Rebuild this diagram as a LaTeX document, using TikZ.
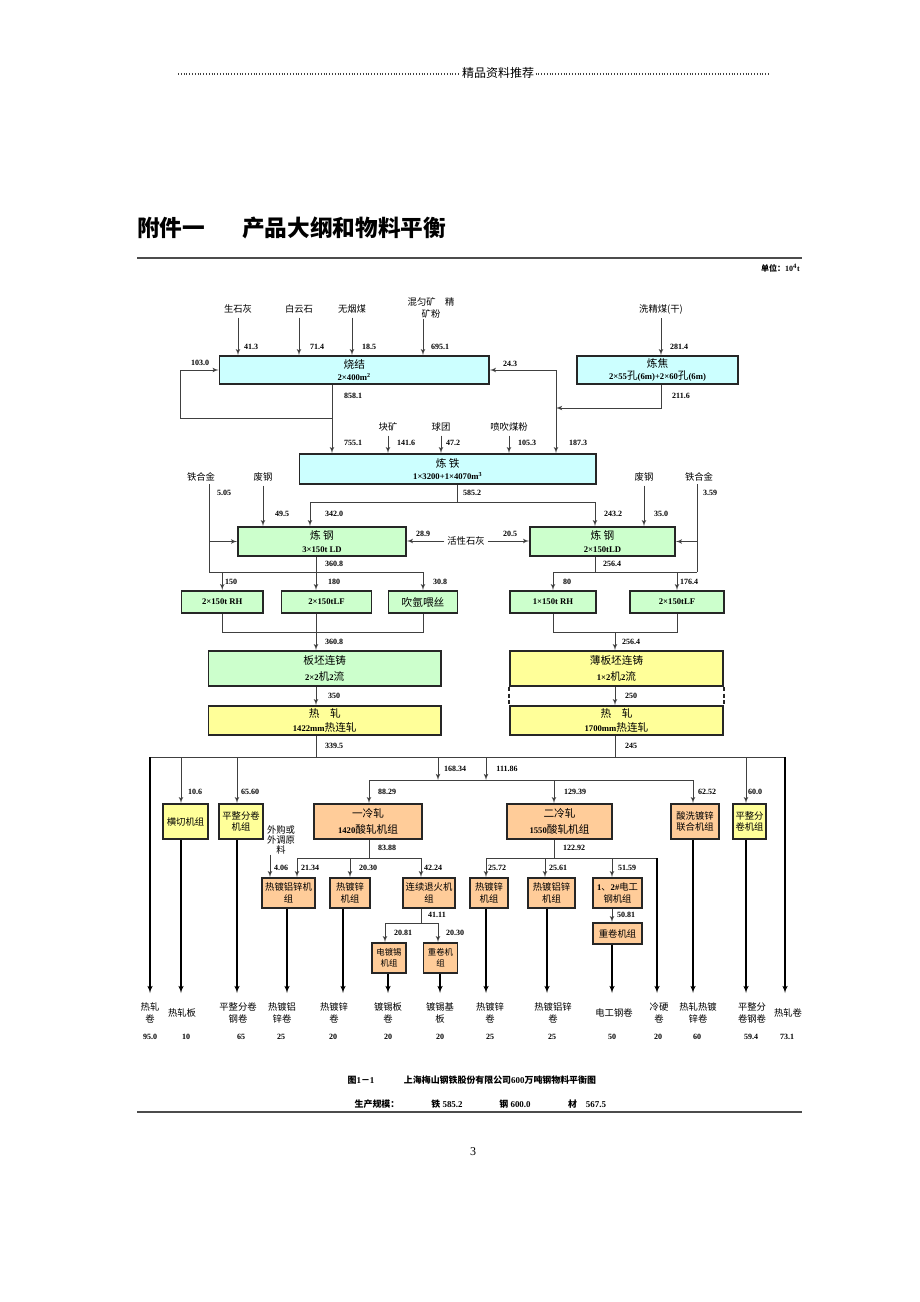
\documentclass[tikz,border=0pt]{standalone}
\usepackage{fontspec}
\setmainfont{Liberation Serif}
\newfontfamily\cjk{Noto Sans CJK SC}
\usetikzlibrary{arrows, positioning, calc}
\definecolor{boxcyan}{RGB}{204,255,255}
\definecolor{boxgreen}{RGB}{204,255,204}
\definecolor{boxyellow}{RGB}{255,255,153}
\definecolor{boxorange}{RGB}{255,204,153}
\newcommand{\zh}[1]{{\cjk #1}}
\newcommand{\bnum}[1]{{\fontsize{6.5}{8}\selectfont\bfseries #1}}
\newcommand{\numfont}{\fontsize{6}{7}\selectfont\bfseries}
\newcommand{\lblfont}{\fontsize{7}{8.5}\selectfont}
\newcommand{\bigbox}{\fontsize{8}{9.6}\selectfont}
\newcommand{\smallbox}{\fontsize{7}{8.6}\selectfont}
\newcommand{\capfont}{\fontsize{6.7}{8}\selectfont\bfseries}
\tikzset{
   pbox/.style={draw=black!85, line width=1.3pt, inner sep=0pt, align=center, font=\bigbox},
   cyanbox/.style={pbox, fill=boxcyan},
   greenbox/.style={pbox, fill=boxgreen},
   yellowbox/.style={pbox, fill=boxyellow},
   orangebox/.style={pbox, fill=boxorange},
   wh/.style 2 args={minimum width=#1*0.75pt, minimum height=#2*0.75pt},
   num/.style={font=\numfont, inner sep=0pt},
   lbl/.style={font=\lblfont, inner sep=0pt, align=center},
   flow/.style={draw=black!75, line width=0.6pt},
   arr/.style={flow, -latex'},
   inarr/.style={arr, shorten <=3pt},
   outarr/.style={draw=black, line width=0.85pt, -latex'},
   dotrule/.style={black!75, line width=0.8pt, dash pattern=on 0.7pt off 1.4pt}
}

\begin{document}
\begin{tikzpicture}[x=0.75pt, y=-0.75pt]
\useasboundingbox (0,0) rectangle (920,1302);

% page head
\node[font=\fontsize{9}{10}\selectfont, inner sep=1pt] (hdr) at (498,73) {\zh{精品资料推荐}};
\draw[dotrule] (178,74) -- (hdr.west |- 0,74);
\draw[dotrule] (hdr.east |- 0,74) -- (770,74);
\node[font=\fontsize{17}{20}\selectfont\bfseries] (tnum) at (171,228) {\zh{附件一}};
\node[font=\fontsize{17}{20}\selectfont\bfseries] (ttext) at (344,228) {\zh{产品大纲和物料平衡}};
\draw[black!70, line width=1pt] (137,258) -- (802,258);
\node[num, anchor=east] (unit) at (800,268) {\zh{单位：}10\textsuperscript{4}t};

% raw materials
\node[lbl] (qlime) at (238,309) {\zh{生石灰}};
\node[lbl] (dolo) at (299,309) {\zh{白云石}};
\node[lbl] (anth) at (352,309) {\zh{无烟煤}};
\node[lbl] (ore) at (431,308) {\zh{混匀矿\quad 精}\\[0.5pt]\zh{矿粉}};
\node[lbl] (wcoal) at (661,309) {\zh{洗精煤(干)}};

% boxes
\node[cyanbox, wh={269.5}{28}] (sinter) at (354.25,370) {\zh{烧结}\\\bnum{2×400m\textsuperscript{2}}};
\node[cyanbox, wh={161}{28}] (coke) at (657.5,370) {\zh{炼焦}\\\bnum{2×55}\zh{孔}\bnum{(6m)+2×60}\zh{孔}\bnum{(6m)}};
\node[cyanbox, wh={296.5}{30}] (iron) at (447.75,469) {\zh{炼\ 铁}\\\bnum{1×3200+1×4070m\textsuperscript{3}}};
\node[greenbox, wh={168}{29}] (bof1) at (322,541.5) {\zh{炼\ 钢}\\\bnum{3×150t LD}};
\node[greenbox, wh={145}{29}] (bof2) at (602.5,541.5) {\zh{炼\ 钢}\\\bnum{2×150tLD}};
\node[greenbox, wh={81.5}{22}] (rh1) at (222.25,602) {\bnum{2×150t RH}};
\node[greenbox, wh={90}{22}] (lf1) at (326.5,602) {\bnum{2×150tLF}};
\node[greenbox, wh={69}{22}] (argon) at (423,602) {\zh{吹氩喂丝}};
\node[greenbox, wh={86}{22}] (rh2) at (553,602) {\bnum{1×150t RH}};
\node[greenbox, wh={94}{22}] (lf2) at (677,602) {\bnum{2×150tLF}};
\node[greenbox, wh={232.5}{35}] (cc1) at (324.75,668.5) {\zh{板坯连铸}\\[3pt]\bnum{2×2}\zh{机}\bnum{2}\zh{流}};
\node[yellowbox, wh={213}{35}] (cc2) at (616.5,668.5) {\zh{薄板坯连铸}\\[3pt]\bnum{1×2}\zh{机}\bnum{2}\zh{流}};
\node[yellowbox, wh={232.5}{29}] (hsm1) at (324.75,720.5) {\zh{热\hspace{1em}轧}\\[1.5pt]\bnum{1422mm}\zh{热连轧}};
\node[yellowbox, wh={213}{29}] (hsm2) at (616.5,720.5) {\zh{热\hspace{1em}轧}\\[1.5pt]\bnum{1700mm}\zh{热连轧}};
\node[yellowbox, wh={45}{35}, font=\smallbox] (cut) at (185.5,821.5) {\zh{横切机组}};
\node[yellowbox, wh={44}{35}, font=\smallbox] (skp1) at (241,821.5) {\zh{平整分卷}\\\zh{机组}};
\node[orangebox, wh={108}{35}] (pcm1) at (368,821.5) {\zh{一冷轧}\\[3pt]\bnum{1420}\zh{酸轧机组}};
\node[orangebox, wh={105}{35}] (pcm2) at (559.5,821.5) {\zh{二冷轧}\\[3pt]\bnum{1550}\zh{酸轧机组}};
\node[orangebox, wh={48}{35}, font=\smallbox] (pgl) at (695,821.5) {\zh{酸洗镀锌}\\\zh{联合机组}};
\node[yellowbox, wh={33}{35}, font=\smallbox] (skp2) at (749.5,821.5) {\zh{平整分}\\\zh{卷机组}};
\node[orangebox, wh={53}{30}, font=\smallbox] (galv1) at (288.5,893) {\zh{热镀铝锌机}\\\zh{组}};
\node[orangebox, wh={40}{30}, font=\smallbox] (cgl1) at (350,893) {\zh{热镀锌}\\\zh{机组}};
\node[orangebox, wh={52}{30}, font=\smallbox] (ca) at (429,893) {\zh{连续退火机}\\\zh{组}};
\node[orangebox, wh={38}{30}, font=\smallbox] (cgl2) at (489,893) {\zh{热镀锌}\\\zh{机组}};
\node[orangebox, wh={47}{30}, font=\smallbox] (galv2) at (551.5,893) {\zh{热镀铝锌}\\\zh{机组}};
\node[orangebox, wh={49}{30}, font=\smallbox] (elec) at (617.5,893) {\bnum{1}\zh{、}\bnum{2\#}\zh{电工}\\\zh{钢机组}};
\node[orangebox, wh={49}{21}, font=\smallbox] (rew2) at (617.5,933.5) {\zh{重卷机组}};
\node[orangebox, wh={34.5}{30}, font=\fontsize{6.3}{8}\selectfont] (etl) at (389,958) {\zh{电镀锡}\\\zh{机组}};
\node[orangebox, wh={34}{30}, font=\fontsize{6.3}{8}\selectfont] (rew1) at (440.5,958) {\zh{重卷机}\\\zh{组}};

% other inputs
\node[lbl] (lump) at (388,427) {\zh{块矿}};
\node[lbl] (pellet) at (441,427) {\zh{球团}};
\node[lbl] (pci) at (509,427) {\zh{喷吹煤粉}};
\node[lbl] (ferro1) at (201,477) {\zh{铁合金}};
\node[lbl] (scrap1) at (263,477) {\zh{废钢}};
\node[lbl] (scrap2) at (644,477) {\zh{废钢}};
\node[lbl] (ferro2) at (699,477) {\zh{铁合金}};
\node[lbl] (actlime) at (466,541) {\zh{活性石灰}};
\node[lbl] (extsrc) at (281,840) {\zh{外购或}\\[-1pt]\zh{外调原}\\[-1pt]\zh{料}};

% sinter and coke
\draw[inarr] (qlime.south) -- (qlime.south |- sinter.north);
\draw[inarr] (dolo.south) -- (dolo.south |- sinter.north);
\draw[inarr] (anth.south) -- (anth.south |- sinter.north);
\draw[arr] ([xshift=-6pt]ore.south) -- ([xshift=-6pt]ore.south |- sinter.north);
\draw[inarr] (wcoal.south) -- (wcoal.south |- coke.north);
\coordinate (s1) at (332,418);
\coordinate (c1) at (556,408);
\coordinate (c2) at (661,408);
\draw[flow] (sinter.south -| s1) -- (s1);
\draw[arr] (s1) -- (s1 |- iron.north);
\draw[arr] (s1) -| ([xshift=-29pt]sinter.west) -- (sinter.west);
\draw[arr] (coke.south -| c2) -- (c2) -- (c1);
\draw[arr] (c1) -- (c1 |- sinter.east) -- (sinter.east);
\draw[arr] (c1) -- (c1 |- iron.north);
\draw[inarr] (lump.south) -- (lump.south |- iron.north);
\draw[inarr] (pellet.south) -- (pellet.south |- iron.north);
\draw[inarr] (pci.south) -- (pci.south |- iron.north);

% iron to steel
\coordinate (i1) at (457,502);
\coordinate (i2) at (310,502);
\coordinate (i3) at (595,502);
\draw[flow] (iron.south -| i1) -- (i1);
\draw[flow] (i2) -- (i3);
\draw[arr] (i2) -- (i2 |- bof1.north);
\draw[arr] (i3) -- (i3 |- bof2.north);
\draw[inarr] (scrap1.south) -- (scrap1.south |- bof1.north);
\draw[inarr] (scrap2.south) -- (scrap2.south |- bof2.north);
\draw[arr, shorten <=2pt] (actlime.west) -- (actlime.west -| bof1.east);
\draw[arr, shorten <=2pt] (actlime.east) -- (actlime.east -| bof2.west);
\coordinate (f1) at (209,572);
\coordinate (f2) at (697,572);
\draw[flow, shorten <=2pt] (ferro1.south -| f1) -- (f1);
\draw[flow, shorten <=2pt] (ferro2.south -| f2) -- (f2);
\draw[arr] (f1 |- bof1.west) -- (bof1.west);
\draw[arr] (f2 |- bof2.east) -- (bof2.east);

% secondary metallurgy
\coordinate (b1) at (316,572);
\coordinate (b2) at (595,572);
\draw[flow] (bof1.south -| b1) -- (b1);
\draw[flow] (f1) -- (argon.north |- b1);
\draw[arr] (rh1.north |- b1) -- (rh1.north);
\draw[arr] (b1) -- (b1 |- lf1.north);
\draw[arr] (argon.north |- b1) -- (argon.north);
\draw[flow] (bof2.south -| b2) -- (b2);
\draw[flow] (rh2.north |- b2) -- (f2);
\draw[arr] (rh2.north |- b2) -- (rh2.north);
\draw[arr] (lf2.north |- b2) -- (lf2.north);

% casting and hot rolling
\coordinate (b3) at (316,632);
\coordinate (b4) at (615,632);
\draw[flow] (rh1.south) -- (rh1.south |- b3) -- (argon.south |- b3) -- (argon.south);
\draw[arr] (lf1.south -| b3) -- (b3 |- cc1.north);
\draw[flow] (rh2.south) -- (rh2.south |- b4) -- (lf2.south |- b4) -- (lf2.south);
\draw[arr] (b4) -- (b4 |- cc2.north);
\draw[arr] (cc1.south -| b3) -- (b3 |- hsm1.north);
\draw[arr] (cc2.south -| b4) -- (b4 |- hsm2.north);
\draw[black!85, line width=1pt, dash pattern=on 3pt off 2pt] (cc2.south west) -- (hsm2.north west);
\draw[black!85, line width=1pt, dash pattern=on 3pt off 2pt] (cc2.south east) -- (hsm2.north east);

% hot strip distribution
\coordinate (h1) at (316,757);
\coordinate (h2) at (615,757);
\coordinate (hl) at (150,757);
\coordinate (hr) at (785,757);
\coordinate (d1) at (181,757);
\coordinate (d2) at (237,757);
\coordinate (d3) at (438,757);
\coordinate (d4) at (486,757);
\coordinate (d5) at (746,757);
\coordinate (k1) at (369,780);
\coordinate (k2) at (693,780);
\coordinate (k3) at (554,780);
\coordinate (bot) at (0,993);
\draw[flow] (hsm1.south -| h1) -- (h1);
\draw[flow] (hsm2.south -| h2) -- (h2);
\draw[flow] (hl) -- (hr);
\draw[arr] (d1) -- (d1 |- cut.north);
\draw[arr] (d2) -- (d2 |- skp1.north);
\draw[arr] (d3) -- (d3 |- k1);
\draw[arr] (d4) -- (d4 |- k1);
\draw[arr] (d5) -- (d5 |- skp2.north);
\draw[flow] (k1) -- (k2);
\draw[arr] (k1) -- (k1 |- pcm1.north);
\draw[arr] (k3) -- (k3 |- pcm2.north);
\draw[arr] (k2) -- (k2 |- pgl.north);

% cold rolling 1
\coordinate (p1) at (369,858);
\coordinate (p1l) at (297,858);
\coordinate (p1m) at (350,858);
\coordinate (p1r) at (421,858);
\coordinate (p1x) at (270,858);
\draw[flow] (pcm1.south -| p1) -- (p1);
\draw[flow] (p1l) -- (p1r);
\draw[arr] (p1l) -- (p1l |- galv1.north);
\draw[arr] (p1m) -- (p1m |- cgl1.north);
\draw[arr] (p1r) -- (p1r |- ca.north);
\draw[arr] (extsrc.south -| p1x) -- (p1x |- galv1.north);
\coordinate (q1) at (421,923);
\coordinate (q1l) at (385,923);
\coordinate (q1r) at (438,923);
\draw[flow] (ca.south -| q1) -- (q1);
\draw[flow] (q1l) -- (q1r);
\draw[arr] (q1l) -- (q1l |- etl.north);
\draw[arr] (q1r) -- (q1r |- rew1.north);

% cold rolling 2
\coordinate (p2) at (554,858);
\coordinate (p2l) at (486,858);
\coordinate (p2m) at (545,858);
\coordinate (p2e) at (612,858);
\coordinate (p2r) at (657,858);
\draw[flow] (pcm2.south -| p2) -- (p2);
\draw[flow] (p2l) -- (p2r);
\draw[arr] (p2l) -- (p2l |- cgl2.north);
\draw[arr] (p2m) -- (p2m |- galv2.north);
\draw[arr] (p2e) -- (p2e |- elec.north);
\draw[arr] (elec.south -| p2e) -- (p2e |- rew2.north);

% products
\coordinate (e1) at (287,993);
\coordinate (e2) at (343,993);
\coordinate (e3) at (388,993);
\coordinate (e4) at (440,993);
\coordinate (e5) at (547,993);
\draw[outarr] (hl) -- (hl |- bot);
\draw[outarr] (cut.south -| d1) -- (d1 |- bot);
\draw[outarr] (skp1.south -| d2) -- (d2 |- bot);
\draw[outarr] (galv1.south -| e1) -- (e1);
\draw[outarr] (cgl1.south -| e2) -- (e2);
\draw[outarr] (etl.south -| e3) -- (e3);
\draw[outarr] (rew1.south -| e4) -- (e4);
\draw[outarr] (cgl2.south -| p2l) -- (p2l |- bot);
\draw[outarr] (galv2.south -| e5) -- (e5);
\draw[outarr] (rew2.south -| p2e) -- (p2e |- bot);
\draw[outarr] (p2r) -- (p2r |- bot);
\draw[outarr] (pgl.south -| k2) -- (k2 |- bot);
\draw[outarr] (skp2.south -| d5) -- (d5 |- bot);
\draw[outarr] (hr) -- (hr |- bot);

\node[lbl] (out1) at (150,1013) {\zh{热轧}\\\zh{卷}};
\node[lbl] (out2) at (182,1013) {\zh{热轧板}};
\node[lbl] (out3) at (238,1013) {\zh{平整分卷}\\\zh{钢卷}};
\node[lbl] (out4) at (282,1013) {\zh{热镀铝}\\\zh{锌卷}};
\node[lbl] (out5) at (334,1013) {\zh{热镀锌}\\\zh{卷}};
\node[lbl] (out6) at (388,1013) {\zh{镀锡板}\\\zh{卷}};
\node[lbl] (out7) at (440,1013) {\zh{镀锡基}\\\zh{板}};
\node[lbl] (out8) at (490,1013) {\zh{热镀锌}\\\zh{卷}};
\node[lbl] (out9) at (553,1013) {\zh{热镀铝锌}\\\zh{卷}};
\node[lbl] (out10) at (614,1013) {\zh{电工钢卷}};
\node[lbl] (out11) at (659,1013) {\zh{冷硬}\\\zh{卷}};
\node[lbl] (out12) at (698,1013) {\zh{热轧热镀}\\\zh{锌卷}};
\node[lbl] (out13) at (752,1013) {\zh{平整分}\\\zh{卷钢卷}};
\node[lbl] (out14) at (788,1013) {\zh{热轧卷}};
\node[num] (t1) at (150,1037) {95.0};
\node[num] (t2) at (186,1037) {10};
\node[num] (t3) at (241,1037) {65};
\node[num] (t4) at (281,1037) {25};
\node[num] (t5) at (333,1037) {20};
\node[num] (t6) at (388,1037) {20};
\node[num] (t7) at (440,1037) {20};
\node[num] (t8) at (490,1037) {25};
\node[num] (t9) at (552,1037) {25};
\node[num] (t10) at (612,1037) {50};
\node[num] (t11) at (658,1037) {20};
\node[num] (t12) at (697,1037) {60};
\node[num] (t13) at (751,1037) {59.4};
\node[num] (t14) at (787,1037) {73.1};

% flow values
\node[num] (v01) at (251,347) {41.3};
\node[num] (v02) at (317,347) {71.4};
\node[num] (v03) at (369,347) {18.5};
\node[num] (v04) at (440,347) {695.1};
\node[num] (v05) at (679,347) {281.4};
\node[num] (v06) at (200,363) {103.0};
\node[num] (v07) at (510,364) {24.3};
\node[num] (v08) at (353,396) {858.1};
\node[num] (v09) at (681,396) {211.6};
\node[num] (v10) at (353,443) {755.1};
\node[num] (v11) at (406,443) {141.6};
\node[num] (v12) at (453,443) {47.2};
\node[num] (v13) at (527,443) {105.3};
\node[num] (v14) at (578,443) {187.3};
\node[num] (v15) at (472,493) {585.2};
\node[num] (v16) at (224,493) {5.05};
\node[num] (v17) at (710,493) {3.59};
\node[num] (v18) at (282,514) {49.5};
\node[num] (v19) at (334,514) {342.0};
\node[num] (v20) at (613,514) {243.2};
\node[num] (v21) at (661,514) {35.0};
\node[num] (v22) at (423,534) {28.9};
\node[num] (v23) at (510,534) {20.5};
\node[num] (v24) at (334,564) {360.8};
\node[num] (v25) at (612,564) {256.4};
\node[num] (v26) at (231,582) {150};
\node[num] (v27) at (334,582) {180};
\node[num] (v28) at (440,582) {30.8};
\node[num] (v29) at (567,582) {80};
\node[num] (v30) at (689,582) {176.4};
\node[num] (v31) at (334,642) {360.8};
\node[num] (v32) at (631,642) {256.4};
\node[num] (v33) at (334,696) {350};
\node[num] (v34) at (631,696) {250};
\node[num] (v35) at (334,746) {339.5};
\node[num] (v36) at (631,746) {245};
\node[num] (v37) at (455,769) {168.34};
\node[num] (v38) at (507,769) {111.86};
\node[num] (v39) at (195,792) {10.6};
\node[num] (v40) at (250,792) {65.60};
\node[num] (v41) at (387,792) {88.29};
\node[num] (v42) at (575,792) {129.39};
\node[num] (v43) at (707,792) {62.52};
\node[num] (v44) at (755,792) {60.0};
\node[num] (v45) at (387,848) {83.88};
\node[num] (v46) at (574,848) {122.92};
\node[num] (v47) at (281,868) {4.06};
\node[num] (v48) at (310,868) {21.34};
\node[num] (v49) at (368,868) {20.30};
\node[num] (v50) at (433,868) {42.24};
\node[num] (v51) at (497,868) {25.72};
\node[num] (v52) at (558,868) {25.61};
\node[num] (v53) at (627,868) {51.59};
\node[num] (v54) at (437,915) {41.11};
\node[num] (v55) at (626,915) {50.81};
\node[num] (v56) at (403,933) {20.81};
\node[num] (v57) at (455,933) {20.30};

% caption
\node[font=\capfont] (figno) at (361,1080) {\zh{图}1\zh{－}1};
\node[font=\capfont] (figtitle) at (500,1080) {\zh{上海梅山钢铁股份有限公司}600\zh{万吨钢物料平衡图}};
\node[font=\capfont] (scale) at (377,1104) {\zh{生产规模：}};
\node[font=\capfont] (sc1) at (447,1104) {\zh{铁}\ 585.2};
\node[font=\capfont] (sc2) at (515,1104) {\zh{钢}\ 600.0};
\node[font=\capfont] (sc3) at (587,1104) {\zh{材}\quad 567.5};
\draw[black!70, line width=1pt] (137,1112) -- (802,1112);
\node[font=\fontsize{9}{10}\selectfont] (pageno) at (473,1152) {3};
\end{tikzpicture}
\end{document}
